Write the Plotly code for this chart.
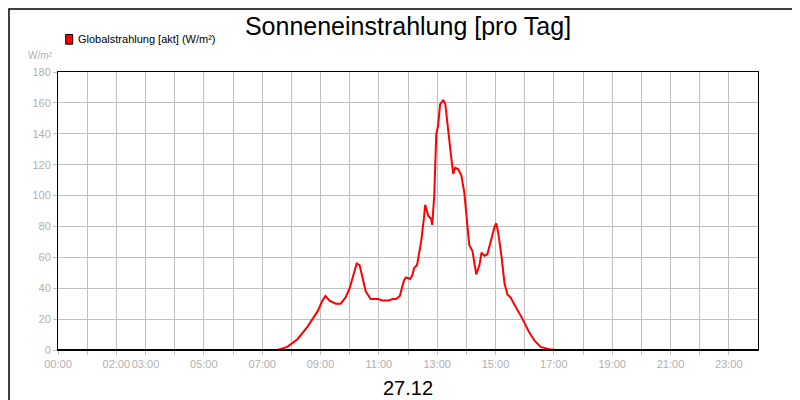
import plotly.graph_objects as go

hours = [0, 7.52, 7.86, 8.21, 8.55, 8.72, 8.90, 9.07, 9.17, 9.31, 9.52, 9.69, 9.86, 10.0, 10.14, 10.24, 10.34,
         10.45, 10.55, 10.72, 10.97, 11.14, 11.31, 11.48, 11.59, 11.72, 11.86, 11.93, 12.07, 12.14, 12.21,
         12.31, 12.45, 12.55, 12.59, 12.69, 12.79, 12.83, 12.90, 12.97, 13.03, 13.10, 13.21, 13.28, 13.38,
         13.48, 13.55, 13.62, 13.72, 13.83, 13.93, 14.03, 14.10, 14.21, 14.34, 14.45, 14.52, 14.62, 14.72,
         14.86, 14.97, 15.03, 15.10, 15.21, 15.31, 15.41, 15.52, 15.66, 15.79, 15.93, 16.14, 16.34, 16.55,
         16.83, 17.10, 24]
values = [0, 0, 2, 7, 15, 20, 25, 32, 35, 32, 30, 30, 34, 40, 50, 56, 55,
          45, 38, 33, 33, 32, 32, 33, 33, 35, 45, 47, 46, 48, 53,
          55, 70, 86, 94, 87, 85, 81, 100, 140, 145, 159, 162, 159, 140,
          125, 114, 118, 117, 113, 102, 82, 68, 64, 49, 55, 63, 61, 62,
          72, 80, 82, 75, 60, 43, 36, 34, 29, 25, 20, 12, 6, 2,
          0.5, 0, 0]
tick_hours = list(range(0, 24))
tick_names = {0: "00:00", 2: "02:00", 3: "03:00", 5: "05:00", 7: "07:00", 9: "09:00", 11: "11:00",
              13: "13:00", 15: "15:00", 17: "17:00", 19: "19:00", 21: "21:00", 23: "23:00"}
tick_labels = [tick_names.get(h, "") for h in tick_hours]

PW, PH = 700, 278
L, T, B = 50, 64, 58

fig = go.Figure()
fig.add_trace(go.Scatter(x=hours, y=values, mode="lines", line=dict(color="#ff0000", width=2),
                         name="Globalstrahlung [akt] (W/m²)", showlegend=False))
fig.update_layout(
    width=800, height=400, plot_bgcolor="white", paper_bgcolor="white",
    margin=dict(l=L, r=50, t=T, b=B, autoexpand=False),
    font=dict(family="Liberation Sans, Arial", color="#b0b0b0", size=11),
    title=dict(text="Sonneneinstrahlung [pro Tag]", x=0.5, xanchor="center", y=0.955, yanchor="middle",
               font=dict(size=25, color="black")),
    xaxis=dict(range=[0, 24], tickvals=tick_hours, ticktext=tick_labels, tickangle=0, automargin=False,
               showgrid=True, gridcolor="#c0c0c0",
               zeroline=False, showline=True, linecolor="black", mirror=True, ticks="outside",
               tickcolor="#c0c0c0", ticklen=4),
    yaxis=dict(range=[0, 180], dtick=20, automargin=False, showgrid=True, gridcolor="#c0c0c0", zeroline=False,
               showline=True, linecolor="black", mirror=True, ticks="outside", tickcolor="#c0c0c0", ticklen=4),
    shapes=[
        dict(type="rect", xref="paper", yref="paper", x0=-(L - 1) / PW, x1=1 + 49 / PW,
             y0=-(B - 1) / PH, y1=1 + (T - 1) / PH, line=dict(color="black", width=1.5)),
        dict(type="line", xref="paper", yref="y", x0=0, x1=1, y0=0, y1=0, line=dict(color="black", width=2)),
        dict(type="rect", xref="paper", yref="paper", x0=0.011, x1=0.021, y0=1.1, y1=1.135,
             fillcolor="#ff0000", line=dict(color="black", width=1)),
    ],
    annotations=[
        dict(text="Globalstrahlung [akt] (W/m²)", xref="paper", yref="paper", x=0.025, y=1.118,
             xanchor="left", yanchor="middle", showarrow=False, font=dict(size=11, color="black")),
        dict(text="W/m²", xref="paper", yref="paper", x=-0.005, y=1.06, xanchor="right", yanchor="middle",
             showarrow=False, font=dict(size=10, color="#b0b0b0")),
        dict(text="27.12", xref="paper", yref="paper", x=0.5, y=-0.135, xanchor="center", yanchor="middle",
             showarrow=False, font=dict(size=20, color="black")),
    ],
)
fig.write_html("out.html")
